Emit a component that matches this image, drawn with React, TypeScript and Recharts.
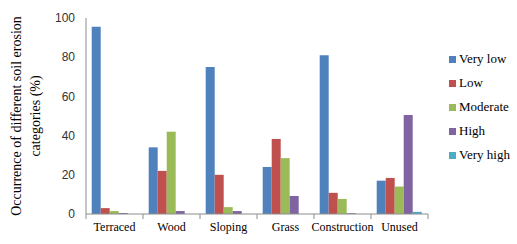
import { BarChart, Bar, XAxis, YAxis, Legend } from 'recharts';

const categories = ['Terraced', 'Wood', 'Sloping', 'Grass', 'Construction', 'Unused'];
const veryLow = [95.5, 34, 75, 24, 81, 17];
const low = [3, 22, 20, 38.3, 10.8, 18.4];
const moderate = [1.5, 42, 3.5, 28.5, 7.7, 14];
const high = [0.5, 1.5, 1.5, 9.2, 0.4, 50.5];
const veryHigh = [0, 0, 0, 0, 0, 1.1];
const yTicks = [0, 20, 40, 60, 80, 100];

const series = [
  { key: 'veryLow', label: 'Very low', color: '#4F81BD' },
  { key: 'low', label: 'Low', color: '#C0504D' },
  { key: 'moderate', label: 'Moderate', color: '#9BBB59' },
  { key: 'high', label: 'High', color: '#8064A2' },
  { key: 'veryHigh', label: 'Very high', color: '#4BACC6' },
];

const data = categories.map((name, i) => ({
  name,
  veryLow: veryLow[i],
  low: low[i],
  moderate: moderate[i],
  high: high[i],
  veryHigh: veryHigh[i],
}));

const SERIF = 'Liberation Serif';
const AXIS_GRAY = '#8c8c8c';

const CategoryTick = (props: any) => {
  const { x, y, payload, index } = props;
  const half = payload?.offset ?? 28.5;
  return (
    <g>
      {index === 0 && <line x1={x - half} x2={x - half} y1={y - 8} y2={y - 3} stroke={AXIS_GRAY} />}
      <line x1={x + half} x2={x + half} y1={y - 8} y2={y - 3} stroke={AXIS_GRAY} />
      <text x={x} y={y} dy="0.75em" textAnchor="middle" style={{ fontFamily: SERIF, fontSize: 12 }} fill="#000">
        {payload.value}
      </text>
    </g>
  );
};

const YTitle = (props: any) => {
  const vb = props.viewBox || { y: 18, height: 196 };
  const cy = vb.y + vb.height / 2;
  return (
    <g style={{ fontFamily: SERIF, fontSize: 14 }} fill="#000">
      <text x={16} y={cy} transform={`rotate(-90 16 ${cy})`} textAnchor="middle" dominantBaseline="central">
        Occurrence of different soil erosion
      </text>
      <text x={35} y={cy} transform={`rotate(-90 35 ${cy})`} textAnchor="middle" dominantBaseline="central">
        categories (%)
      </text>
    </g>
  );
};

const LegendBox = () => (
  <div style={{ fontFamily: SERIF, fontSize: 13, color: '#000' }}>
    {series.map((s) => (
      <div key={s.key} style={{ display: 'flex', alignItems: 'center', height: 24 }}>
        <span style={{ width: 7, height: 7, background: s.color, marginRight: 3, display: 'inline-block' }} />
        <span>{s.label}</span>
      </div>
    ))}
  </div>
);

export default function App() {
  return (
    <div style={{ position: 'fixed', left: 0, top: 0, width: 517, height: 244, background: '#fff' }}>
      <BarChart
        width={517}
        height={244}
        data={data}
        margin={{ top: 18, right: 21, left: 0, bottom: 0 }}
        barCategoryGap="10%"
        barGap={0}
      >
        <XAxis
          dataKey="name"
          tick={<CategoryTick />}
          tickLine={false}
          tickSize={8}
          tickMargin={0}
          axisLine={{ stroke: AXIS_GRAY }}
          interval={0}
          height={30}
        />
        <YAxis
          domain={[0, 100]}
          ticks={yTicks}
          width={86}
          tickLine={false}
          tickSize={6}
          tickMargin={5}
          axisLine={{ stroke: AXIS_GRAY }}
          tick={{ fill: '#333', fontSize: 12, fontFamily: 'Liberation Sans' }}
          label={<YTitle />}
        />
        <Legend
          layout="vertical"
          verticalAlign="top"
          align="right"
          content={<LegendBox />}
          wrapperStyle={{ position: 'absolute', left: 449, top: 47, width: 68 }}
        />
        {series.map((s) => (
          <Bar key={s.key} dataKey={s.key} name={s.label} fill={s.color} isAnimationActive={false} />
        ))}
      </BarChart>
    </div>
  );
}
